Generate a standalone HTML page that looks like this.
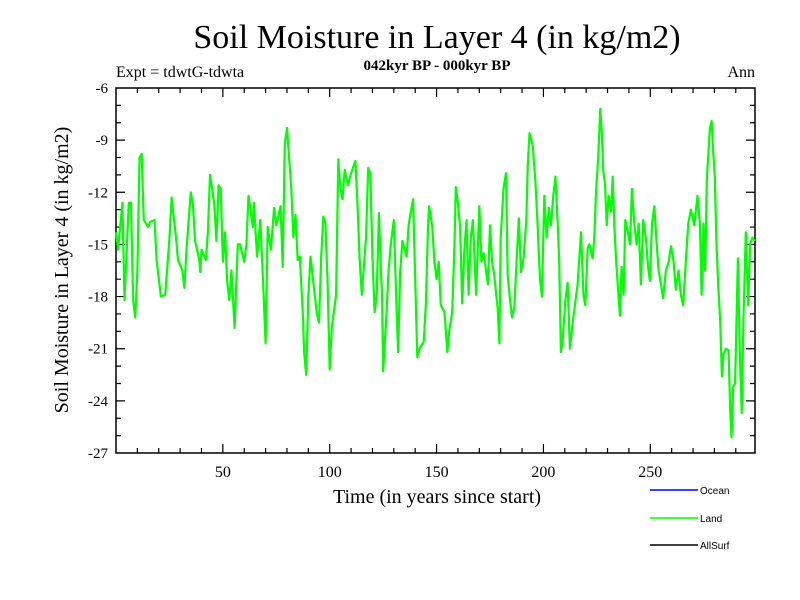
<!DOCTYPE html>
<html><head><meta charset="utf-8"><style>
body{margin:0;background:#fff}
svg{display:block;font-family:"Liberation Serif",serif}
</style></head><body>
<svg id="c" width="800" height="600">
<rect width="800" height="600" fill="#fff"/>
<text x="437" y="48" font-size="34" text-anchor="middle">Soil Moisture in Layer 4 (in kg/m2)</text>
<text x="116" y="77" font-size="16">Expt = tdwtG-tdwta</text>
<text x="437" y="70" font-size="15" font-weight="bold" text-anchor="middle">042kyr BP - 000kyr BP</text>
<text x="755" y="77" font-size="16" text-anchor="end">Ann</text>
<text x="437" y="503" font-size="20" text-anchor="middle">Time (in years since start)</text>
<text transform="translate(68,270) rotate(-90)" font-size="20" text-anchor="middle">Soil Moisture in Layer 4 (in kg/m2)</text>
<g id="axes"></g>
<g id="series"></g>
<g id="legend" font-family="Liberation Sans, sans-serif" font-size="10">
<line x1="650" y1="490" x2="698" y2="490" stroke="#0000ff" stroke-width="1.5"/>
<text x="700" y="494">Ocean</text>
<line x1="650" y1="518" x2="698" y2="518" stroke="#00ff00" stroke-width="1.5"/>
<text x="700" y="522">Land</text>
<line x1="650" y1="545" x2="698" y2="545" stroke="#000" stroke-width="1.5"/>
<text x="700" y="549">AllSurf</text>
</g>
</svg>
<script>
const xTicks=[50,100,150,200,250];
const yTicks=[-6,-9,-12,-15,-18,-21,-24,-27];
const years=[0,1,3,4,6,7,8,9,10,11,12,13,15,16,18,19,21,23,25,26,28,29,31,32,33,35,36,37,39,39.5,40,42,43,44,45,46,47,48,49,50,51,52,53,54,55.5,57,58,60,61,62,64,64.5,66,67.5,69,70,71,72.5,74,75,77,78,79,80,82,83,84,85,86,87.5,88,89,90,91,92,94,95,96,97,98,99,100,101,103,104,105,106,107,108.5,110,112,113,114,115,117,118,119,120,121,122,123,124,124.5,125,126.5,127.5,128.5,130,131,132,133,134,136,137,139,140,141,142,144,145,146,146.5,148,149,150,151,152,153.7,155,156,157.3,158.4,159,160,161,162,163,164,165,166,167,168.5,170,171,172,174,175,176,177,178.6,179.4,180,181.3,182.5,183.3,184,185.3,186.4,187.5,188.5,189.5,190.8,192,192.7,193.5,195,196.2,197.3,198.4,199.3,200.4,201.5,202.5,203.5,204.6,205.6,206.7,207.4,208.2,209,210.3,211.3,212.4,213.7,214.8,216,217.6,218.7,219.6,220.7,221.5,223,223.8,224.6,225.7,226.6,227.4,228,228.8,229.6,230.5,231.6,232.4,233.2,234,235,235.8,236.6,237.5,238.3,239.4,240.5,241.4,242.5,243.6,244.6,245.6,246.7,248,249,249.8,250.8,251.9,253,253.9,255,256,257.3,258.6,259.7,260.8,262,263.2,264.3,265.4,266.7,267.8,269,270.6,272.1,273.2,274,274.9,275.7,276.5,277.3,277.9,278.7,279.4,280.2,281,281.8,282.7,283.5,284.3,285.4,286.6,287.4,288,288.8,289.7,290.3,291,291.9,292.8,293.6,294.7,295.8,296.7,297.8,299];
const moisture=[-14.3,-15.3,-12.6,-18.2,-12.6,-12.6,-18.2,-19.2,-16.5,-10,-9.8,-13.6,-14.0,-13.7,-13.6,-15.9,-18.0,-17.9,-14.7,-12.3,-14.5,-15.9,-16.5,-17.5,-15.3,-12.0,-12.7,-14.8,-15.9,-16.6,-15.3,-15.9,-14.3,-11.0,-11.8,-12.7,-14.8,-11.6,-11.8,-16.0,-14.3,-17.1,-18.2,-16.5,-19.8,-15.0,-15.0,-16.0,-15.0,-12.2,-14.0,-12.6,-15.7,-13.6,-17.7,-20.7,-14.0,-15.3,-12.9,-13.9,-12.8,-16.3,-9.2,-8.3,-11.7,-14.6,-13.3,-15.9,-15.7,-19.2,-21.2,-22.5,-18.0,-15.7,-16.8,-19.0,-19.5,-15.7,-13.4,-13.8,-17.2,-22.2,-19.8,-17.9,-10.1,-11.8,-12.4,-10.7,-11.6,-10.9,-10.2,-12.7,-15.8,-17.9,-14.6,-10.6,-10.9,-15.8,-18.9,-17.9,-13.2,-16.6,-18.0,-22.3,-19.2,-16.6,-15.1,-13.6,-17.7,-21.2,-16.6,-14.8,-15.7,-13.8,-12.4,-17.0,-21.5,-21.0,-20.6,-18.4,-14.0,-12.8,-14.0,-16.0,-17.0,-16.0,-18.5,-18.9,-21.2,-19.9,-18.9,-15.0,-11.7,-12.6,-14.0,-18.4,-15.3,-13.6,-17.9,-14.6,-13.6,-17.9,-12.8,-16.0,-15.5,-17.3,-13.9,-16.0,-16.8,-18.7,-20.7,-14.6,-11.8,-10.9,-16.8,-17.7,-19.2,-18.6,-15.8,-13.5,-16.6,-15.7,-13.6,-10.4,-8.6,-9.3,-11.3,-14.0,-17.0,-18.0,-12.2,-14.6,-12.9,-13.9,-12.2,-11.1,-13.8,-16.0,-21.2,-20.5,-18.2,-17.2,-21.0,-19.5,-18.4,-17.3,-14.3,-17.9,-18.5,-15.2,-15.0,-15.8,-14.6,-12.0,-9.9,-7.2,-8.8,-10.8,-11.5,-13.9,-12.2,-13.1,-11.1,-14.0,-15.9,-17.7,-19.1,-16.3,-17.9,-13.6,-14.2,-15.0,-11.8,-13.8,-15.0,-13.8,-17.3,-13.6,-14.7,-16.3,-17.1,-13.8,-12.8,-15.0,-16.5,-17.3,-18.1,-16.5,-16.0,-15.1,-15.9,-17.6,-16.5,-17.9,-18.5,-15.8,-13.8,-13.0,-13.9,-12.2,-13.8,-17.9,-13.8,-16.5,-11.1,-9.6,-8.3,-7.9,-9.6,-11.1,-15.0,-17.3,-19.4,-22.6,-21.3,-21.0,-21.1,-24.5,-26.1,-23.2,-23.0,-19.6,-15.8,-21.2,-24.7,-19.2,-14.3,-18.5,-15.0,-14.6,-14.8];
const X0=116,X1=755,Y0=88,Y1=453,XMIN=0,XMAX=299,YMIN=-27,YMAX=-6;
const xs=v=>X0+(v-XMIN)/(XMAX-XMIN)*(X1-X0);
const ys=v=>Y1-(v-YMIN)/(YMAX-YMIN)*(Y1-Y0);
const NS='http://www.w3.org/2000/svg';
const axes=document.getElementById('axes');
function mk(tag,attrs,parent){const e=document.createElementNS(NS,tag);for(const k in attrs)e.setAttribute(k,attrs[k]);parent.appendChild(e);return e;}
const frame=mk('rect',{x:X0,y:Y0,width:X1-X0,height:Y1-Y0,fill:'none',stroke:'#000','stroke-width':1.5},axes);


for(let v=10;v<XMAX;v+=10){const L=(v%50===0)?9:5;const x=xs(v);
 const t=mk('path',{d:`M${x},${Y1}V${Y1-L}M${x},${Y0}V${Y0+L}`,stroke:'#000','stroke-width':1.2},axes);
 
 }
xTicks.forEach(v=>{const t=mk('text',{x:xs(v),y:Y1+24,'font-size':16,'text-anchor':'middle'},axes);t.textContent=v;
 
 });
for(let v=YMIN+1;v<YMAX;v+=1){const L=(v%3===0)?9:5;const y=ys(v);
 const t=mk('path',{d:`M${X0},${y}H${X0+L}M${X1},${y}H${X1-L}`,stroke:'#000','stroke-width':1.2},axes);
 
 }
yTicks.forEach(v=>{const t=mk('text',{x:X0-8,y:ys(v)+5,'font-size':15,'text-anchor':'end'},axes);t.textContent=v;
 
 });
const d=years.map((yr,i)=>(i?'L':'M')+xs(yr).toFixed(1)+','+ys(moisture[i]).toFixed(1)).join('');
const line=mk('path',{d:d,fill:'none',stroke:'#00ff00','stroke-width':2.2,'stroke-linejoin':'round'},document.getElementById('series'));


</script>
</body></html>
